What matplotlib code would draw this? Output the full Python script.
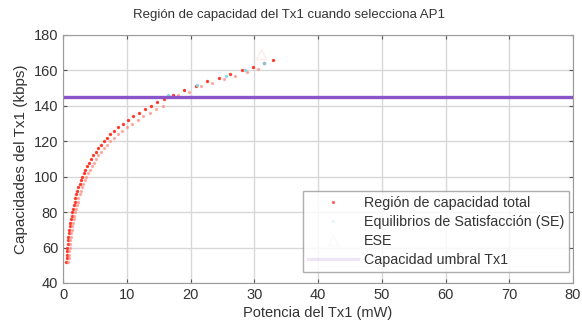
import matplotlib
matplotlib.use("Agg")
import matplotlib.pyplot as plt

plt.rcParams['font.family'] = ['Liberation Sans', 'DejaVu Sans']

# Región de capacidad total (dos filas de puntos)
pot_a = [0.51, 0.55, 0.60, 0.64, 0.69, 0.74, 0.80, 0.86, 0.93, 1.00, 1.08, 1.16,
         1.25, 1.34, 1.45, 1.56, 1.68, 1.81, 1.95, 2.10, 2.26, 2.43, 2.62, 2.82,
         3.04, 3.27, 3.52, 3.79, 4.08, 4.40, 4.74, 5.10, 5.49, 5.92, 6.40, 6.90,
         7.45, 8.05, 8.70, 9.40, 10.2, 11.0, 11.9, 12.8, 13.8, 14.8, 15.9,
         17.2, 19.0, 20.8, 22.6, 24.4, 26.2, 28.0, 29.8, 31.6, 33.0]
cap_a = [52, 54, 56, 58, 60, 62, 64, 66, 68, 70, 72, 74,
         76, 78, 80, 82, 84, 86, 88, 90, 92, 94, 96, 98,
         100, 102, 104, 106, 108, 110, 112, 114, 116, 118, 120, 122,
         124, 126, 128, 130, 132, 134, 136, 138, 140, 142, 144,
         146, 149, 151, 154, 156, 158, 160, 162, 164, 166]
pot_b = [0.82, 0.87, 0.92, 0.97, 1.02, 1.08, 1.15, 1.21, 1.29, 1.37, 1.46, 1.55,
         1.65, 1.75, 1.87, 2.00, 2.13, 2.28, 2.43, 2.60, 2.78, 2.97, 3.18, 3.41,
         3.65, 3.91, 4.19, 4.49, 4.82, 5.18, 5.56, 5.96, 6.40, 6.88, 7.42, 7.98,
         8.59, 9.27, 9.99, 10.8, 11.7, 12.6, 13.6, 14.6, 15.7,
         18.0, 19.8, 21.6, 23.4, 25.2, 27.0, 28.8, 30.6]
cap_b = [52, 54, 56, 58, 60, 62, 64, 66, 68, 70, 72, 74,
         76, 78, 80, 82, 84, 86, 88, 90, 92, 94, 96, 98,
         100, 102, 104, 106, 108, 110, 112, 114, 116, 118, 120, 122,
         124, 126, 128, 130, 132, 134, 136, 138, 140,
         146, 148, 151, 153, 155, 157, 159, 161]

# Equilibrios de Satisfacción (SE)
pot_se = [16.5, 21.0, 25.5, 28.5, 31.5]
cap_se = [146, 152, 157, 160, 164]

# ESE
pot_ese = [31.0]
cap_ese = [169]

umbral = 145

fig = plt.figure(figsize=(5.82, 3.21), dpi=100)
ax = fig.add_axes([63 / 582, 38 / 321, 510 / 582, 248 / 321])

ax.plot(pot_a, cap_a, '.', color='#ff2a1a', markersize=2.8, alpha=0.85,
        label='Región de capacidad total')
ax.plot(pot_b, cap_b, '.', color='#ff8a80', markersize=2.8, alpha=0.6)
ax.plot(pot_se, cap_se, '.', color='#7fd8e8', markersize=3, alpha=0.8,
        label='Equilibrios de Satisfacción (SE)')
ax.plot(pot_ese, cap_ese, '^', color='#f6dcd6', markersize=7, alpha=0.5,
        markerfacecolor='none', label='ESE')
ax.axhline(umbral, color='#8a55c8', linewidth=2.4,
           label='Capacidad umbral Tx1')

ax.set_xlim(0, 80)
ax.set_ylim(40, 180)
ax.set_xticks(range(0, 81, 10))
ax.set_yticks(range(40, 181, 20))
ax.grid(True, color='#d8d8d8', linewidth=1.0)
ax.set_axisbelow(True)
for s in ax.spines.values():
    s.set_color('#9a9a9a')
ax.tick_params(direction='in', length=3, colors='#555555', labelcolor='#333333',
               labelsize=10.5, top=True, right=True)

fig.text(289 / 582, 1 - 15 / 321, 'Región de capacidad del Tx1 cuando selecciona AP1',
         fontsize=9.5, color='#333333', ha='center', va='center')
ax.set_xlabel('Potencia del Tx1 (mW)', fontsize=10.5, color='#333333', labelpad=3)
ax.set_ylabel('Capacidades del Tx1 (kbps)', fontsize=11, color='#333333', labelpad=4)

leg = ax.legend(loc='lower right', bbox_to_anchor=(569 / 582, 1 - 272 / 321),
                bbox_transform=fig.transFigure, borderaxespad=0,
                fontsize=10.3, frameon=True, fancybox=False,
                edgecolor='#9a9a9a', handlelength=3.5,
                handletextpad=0.4, labelspacing=0.35, borderpad=0.35)
for t in leg.get_texts():
    t.set_color('#333333')
for h in leg.legend_handles:
    h.set_alpha(0.15)
leg.legend_handles[0].set_alpha(0.6)

fig.savefig('out.png', dpi=100)
